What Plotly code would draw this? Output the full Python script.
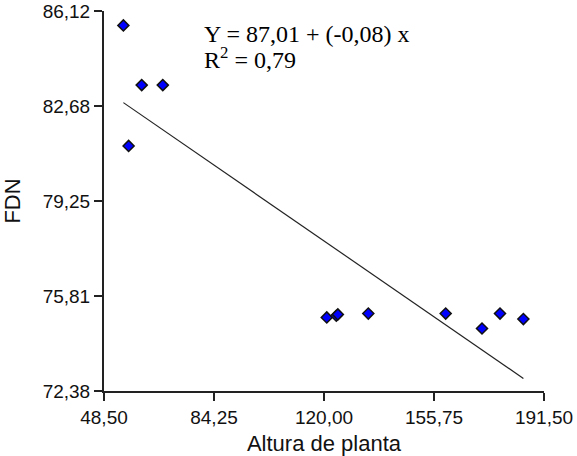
import plotly.graph_objects as go

# Data
altura = [54.8, 56.5, 60.75, 67.6, 120.9, 124.0, 124.5, 134.4, 159.55, 171.35, 177.2, 184.8]
fdn = [85.6, 81.24, 83.44, 83.44, 75.04, 75.10, 75.15, 75.18, 75.18, 74.64, 75.18, 74.98]

intercept = 87.01
slope = -0.0767

x_ticks = [48.50, 84.25, 120.00, 155.75, 191.50]
x_ticktext = ["48,50", "84,25", "120,00", "155,75", "191,50"]
y_ticks = [72.38, 75.81, 79.25, 82.68, 86.12]
y_ticktext = ["72,38", "75,81", "79,25", "82,68", "86,12"]

eq_text = "Y = 87,01 + (-0,08) x"
r2_text = "R<sup>2</sup> = 0,79"

line_x = [min(altura), max(altura)]
line_y = [intercept + slope * v for v in line_x]

fig = go.Figure()
fig.add_trace(go.Scatter(
    x=line_x, y=line_y, mode="lines",
    line=dict(color="#222222", width=1.2),
    showlegend=False, hoverinfo="skip",
))
fig.add_trace(go.Scatter(
    x=altura, y=fdn, mode="markers",
    marker=dict(symbol="diamond", size=8.5, color="#0000FF",
                line=dict(color="#111111", width=1.5)),
    showlegend=False,
))

axis_font = dict(family="Liberation Sans, Arial, sans-serif", size=19, color="#111111")
title_font = dict(family="Liberation Sans, Arial, sans-serif", size=22, color="#111111")
serif_font = dict(family="Liberation Serif, Times New Roman, serif", size=24, color="#000000")

fig.update_layout(
    width=577, height=456,
    margin=dict(l=104, r=33, t=11, b=65, autoexpand=False),
    paper_bgcolor="white", plot_bgcolor="white",
    xaxis=dict(
        range=[48.5, 191.5], tickvals=x_ticks, ticktext=x_ticktext,
        showgrid=False, zeroline=False, showline=True, linecolor="#222222", linewidth=2,
        ticks="outside", ticklen=8, tickwidth=2, tickcolor="#222222",
        tickfont=axis_font, automargin=False,
        title=dict(text="Altura de planta", font=title_font, standoff=12),
    ),
    yaxis=dict(
        range=[72.38, 86.12], tickvals=y_ticks, ticktext=y_ticktext,
        showgrid=False, zeroline=False, showline=True, linecolor="#222222", linewidth=2,
        ticks="outside", ticklen=8, tickwidth=2, tickcolor="#222222",
        tickfont=axis_font, automargin=False,
        title=dict(text="FDN", font=title_font, standoff=20),
    ),
    annotations=[
        dict(text=eq_text, xref="paper", yref="paper", x=0.222, y=0.9387,
             xanchor="left", yanchor="middle", showarrow=False, font=serif_font),
        dict(text=r2_text, xref="paper", yref="paper", x=0.222, y=0.876,
             xanchor="left", yanchor="middle", showarrow=False, font=serif_font),
    ],
)

fig.write_html("out.html")
